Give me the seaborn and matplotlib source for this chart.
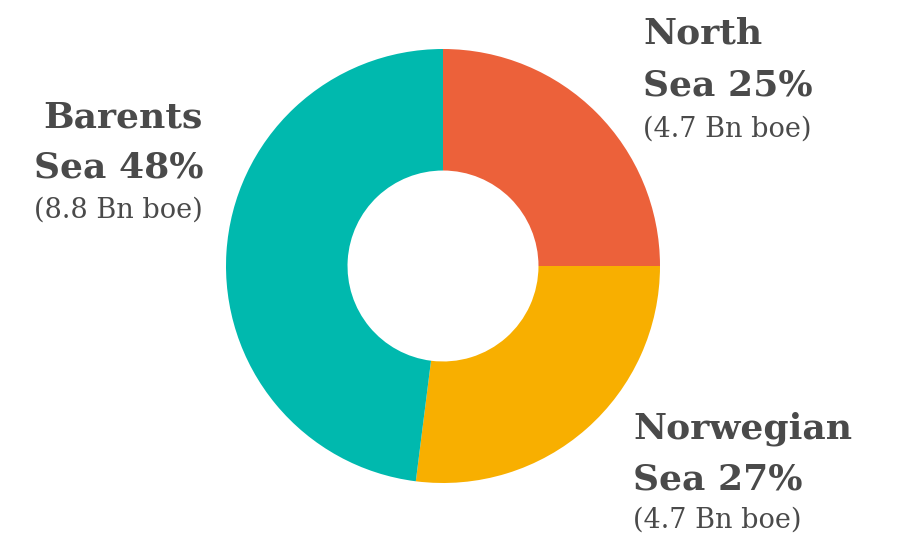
import numpy as np
import matplotlib
matplotlib.use("Agg")
import matplotlib.pyplot as plt
import seaborn as sns

# data
regions = ["North Sea", "Norwegian Sea", "Barents Sea"]
shares = [25, 27, 48]
volumes = [4.7, 4.7, 8.8]
title_top = ["North", "Norwegian", "Barents"]
title_bottom = ["Sea 25%", "Sea 27%", "Sea 48%"]
colors = ["#EC613A", "#F8AF00", "#00B9AE"]

sns.set_theme(style="white")
plt.rcParams["font.family"] = ["DejaVu Serif"]

W, H = 899, 543
fig = plt.figure(figsize=(W / 100, H / 100), dpi=100)
ax = fig.add_axes([0, 0, 1, 1])

# donut, clockwise from 12 o'clock
R = 217
ax.pie(shares, colors=sns.color_palette(colors), startangle=90, counterclock=False,
       center=(443, H - 266), radius=R, frame=True,
       wedgeprops=dict(width=R * 0.56, linewidth=0))
ax.set_xlim(0, W)
ax.set_ylim(0, H)
ax.set_aspect("equal")
ax.axis("off")

txt = "#4a4a4a"
# label positions (x, baselines of three lines, alignment)
label_pos = [
    (643, [43, 95, 137], "left"),
    (633, [438, 490, 528], "left"),
    (203, [128, 178, 218], "right"),
]
for i, (x, ys, ha) in enumerate(label_pos):
    ax.text(x, H - ys[0], title_top[i], ha=ha, va="baseline", fontsize=26,
            fontweight="semibold", color=txt)
    ax.text(x, H - ys[1], title_bottom[i], ha=ha, va="baseline", fontsize=26,
            fontweight="semibold", color=txt)
    ax.text(x, H - ys[2], "({} Bn boe)".format(volumes[i]), ha=ha, va="baseline",
            fontsize=19.5, color=txt)

fig.savefig("out.png", dpi=100)
